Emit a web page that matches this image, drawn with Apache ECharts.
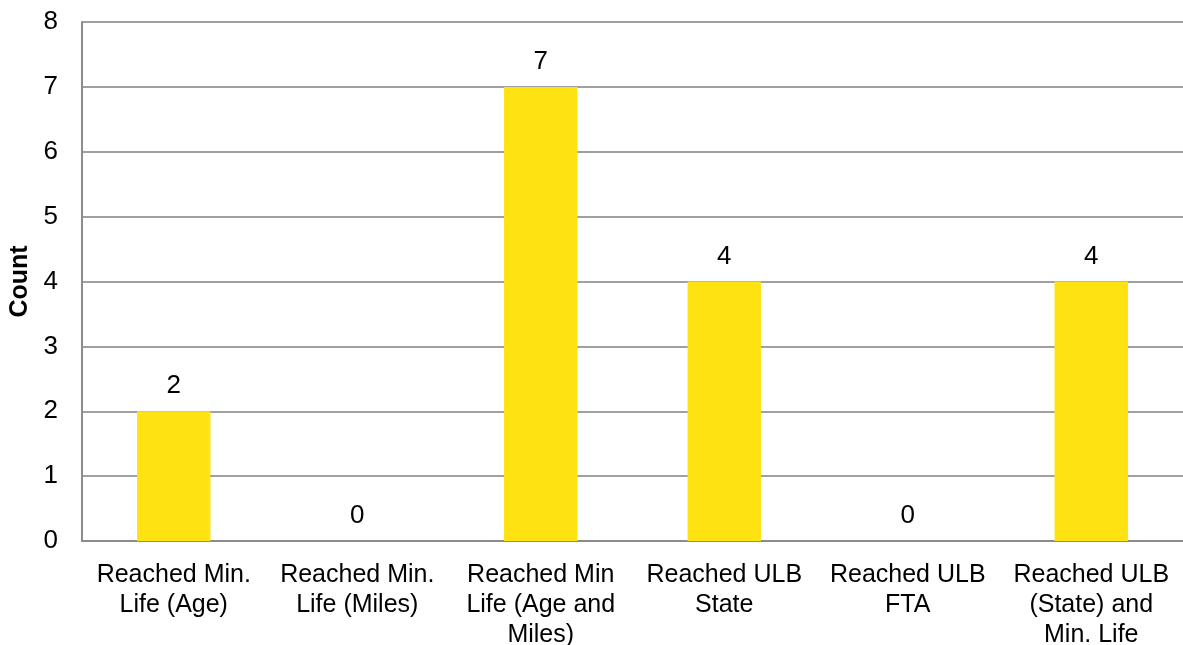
<!DOCTYPE html>
<html>
<head>
<meta charset="utf-8">
<script src="https://cdn.jsdelivr.net/npm/echarts@6/dist/echarts.min.js"></script>
<style>
  html, body { margin: 0; padding: 0; background: #fff; }
  #chart { width: 1183px; height: 645px; }
</style>
</head>
<body>
<div id="chart"></div>
<script>
// Vehicle replacement criteria counts
const categories = [
  'Reached Min.\nLife (Age)',
  'Reached Min.\nLife (Miles)',
  'Reached Min\nLife (Age and\nMiles)',
  'Reached ULB\nState',
  'Reached ULB\nFTA',
  'Reached ULB\n(State) and\nMin. Life'
];
const counts = [2, 0, 7, 4, 0, 4];
const yTicks = [0, 1, 2, 3, 4, 5, 6, 7, 8];

const font = 'Liberation Sans, Arial, sans-serif';
const chart = echarts.init(document.getElementById('chart'));
chart.setOption({
  animation: false,
  grid: { left: 82, right: 0, top: 22, bottom: 104, outerBoundsMode: 'none', containLabel: false },
  xAxis: {
    type: 'category',
    data: categories,
    axisLine: { show: true, lineStyle: { color: '#8c8c8c', width: 2 } },
    axisTick: { show: false },
    axisLabel: {
      interval: 0, color: '#000', fontFamily: font, fontSize: 25,
      lineHeight: 30, margin: 19
    }
  },
  yAxis: {
    type: 'value',
    min: yTicks[0],
    max: yTicks[yTicks.length - 1],
    interval: 1,
    name: 'Count',
    nameLocation: 'middle',
    nameGap: 48,
    nameTextStyle: { color: '#000', fontFamily: font, fontSize: 25, fontWeight: 'bold' },
    axisLine: { show: true, lineStyle: { color: '#8c8c8c', width: 2 } },
    axisTick: { show: false },
    axisLabel: { color: '#000', fontFamily: font, fontSize: 26, margin: 24 },
    splitLine: { show: true, lineStyle: { color: '#a0a0a0', width: 2 } }
  },
  series: [{
    type: 'bar',
    data: counts,
    barWidth: '40%',
    itemStyle: { color: '#FFE212' },
    label: {
      show: true, position: 'top', distance: 12,
      color: '#000', fontFamily: font, fontSize: 26
    }
  }]
});
</script>
</body>
</html>
